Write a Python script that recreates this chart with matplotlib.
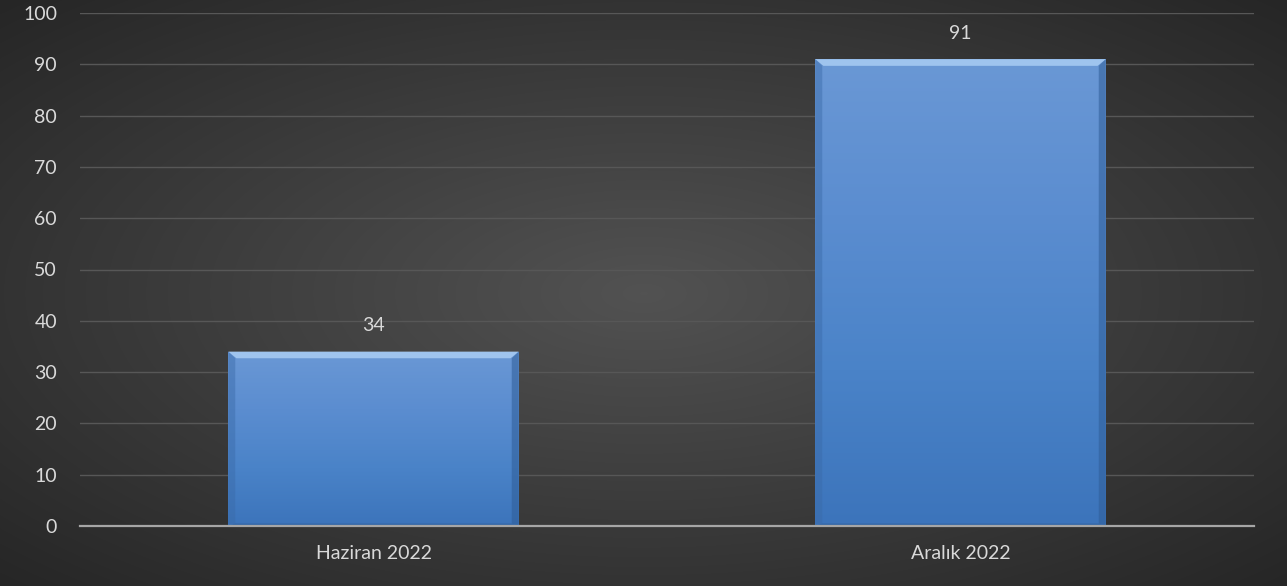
import numpy as np
import matplotlib
matplotlib.use("Agg")
import matplotlib.pyplot as plt
from matplotlib.colors import LinearSegmentedColormap

categories = ["Haziran 2022", "Aralık 2022"]
values = [34, 91]
yticks = [0, 10, 20, 30, 40, 50, 60, 70, 80, 90, 100]

W, H = 1287, 586
fig = plt.figure(figsize=(W / 100, H / 100), dpi=100)

# background radial gradient
bg = fig.add_axes([0, 0, 1, 1], zorder=-10)
yy, xx = np.mgrid[0:H, 0:W]
r = np.sqrt(((xx - W / 2) / (W / 2)) ** 2 + ((yy - H / 2) / (H / 2)) ** 2) / np.sqrt(2)
bgcmap = LinearSegmentedColormap.from_list("bg", ["#525252", "#3c3c3c", "#262626"])
bg.imshow(r, cmap=bgcmap, aspect="auto", extent=[0, 1, 0, 1], vmin=0, vmax=1)
bg.axis("off")

ax = fig.add_axes([80 / W, 1 - 526 / H, (1254 - 80) / W, (526 - 13) / H])
ax.patch.set_alpha(0)
x = np.arange(len(categories))
width = 0.495
bars = ax.bar(x, values, width=width, color="#5589cc", zorder=3)

barcmap = LinearSegmentedColormap.from_list(
    "bar", ["#3c74bb", "#4a83c8", "#5b8dd0", "#6a98d5"])
grad = np.linspace(0, 1, 256).reshape(-1, 1)
for b in bars:
    bx, by = b.get_x(), b.get_y()
    bw, bh = b.get_width(), b.get_height()
    im = ax.imshow(grad, cmap=barcmap, aspect="auto", origin="lower",
                   extent=[bx, bx + bw, by, by + bh], zorder=3.5)
    im.set_clip_path(b)
    # bevel highlight on top
    hl = 1.3
    ax.fill([bx, bx + bw, bx + bw - 0.014, bx + 0.014],
            [by + bh, by + bh, by + bh - hl, by + bh - hl],
            color="#a9cdf3", alpha=0.85, zorder=4, lw=0)
    # darker side edges
    ax.fill([bx, bx + 0.012, bx + 0.012, bx],
            [by, by + 0.5, by + bh - hl, by + bh],
            color="#3a6aa8", alpha=0.45, zorder=4, lw=0)
    ax.fill([bx + bw, bx + bw - 0.012, bx + bw - 0.012, bx + bw],
            [by, by + 0.5, by + bh - hl, by + bh],
            color="#2f5d97", alpha=0.55, zorder=4, lw=0)
    ax.fill([bx, bx + bw, bx + bw - 0.012, bx + 0.012],
            [by, by, by + 0.5, by + 0.5],
            color="#2f5d97", alpha=0.5, zorder=4, lw=0)
    ax.text(bx + bw / 2, by + bh + 5.0, f"{int(bh)}", ha="center", va="center",
            color="#d9d9d9", fontsize=14, family="Lato", zorder=5)

ax.set_xlim(-0.5, len(categories) - 0.5)
ax.set_ylim(0, 100)
ax.set_yticks(yticks)
ax.set_xticks(x)
ax.set_xticklabels(categories)
ax.grid(axis="y", color="#575757", lw=1.0, zorder=0)
for s in ["top", "right", "left"]:
    ax.spines[s].set_visible(False)
ax.spines["bottom"].set_color("#a6a6a6")
ax.spines["bottom"].set_linewidth(1.6)
ax.spines["bottom"].set_zorder(6)
ax.tick_params(axis="both", length=0, colors="#d9d9d9", labelsize=14)
ax.tick_params(axis="y", pad=16.5)
ax.tick_params(axis="x", pad=14)
for lbl in ax.get_xticklabels() + ax.get_yticklabels():
    lbl.set_family("Lato")

fig.savefig("out.png", dpi=100)
